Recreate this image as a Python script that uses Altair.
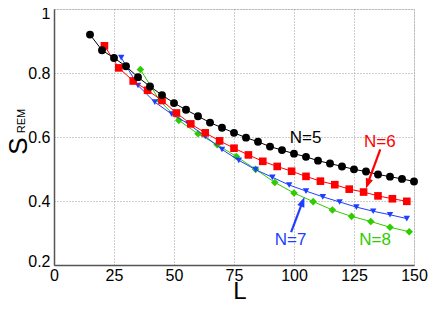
import altair as alt
import pandas as pd

# ---- data ----
L5 = [15, 20, 25, 30, 35, 40, 45, 50, 55, 60, 65, 70, 75, 80, 85, 90, 95, 100,
      105, 110, 115, 120, 125, 130, 135, 140, 145, 150]
S5 = [0.920, 0.871, 0.847, 0.821, 0.787, 0.758, 0.731, 0.706, 0.685, 0.665,
      0.645, 0.629, 0.613, 0.598, 0.585, 0.570, 0.559, 0.548, 0.538, 0.526,
      0.517, 0.508, 0.499, 0.492, 0.483, 0.476, 0.469, 0.461]

L6 = [21, 27, 33, 39, 45, 51, 57, 63, 69, 75, 81, 87, 93, 99, 105, 111, 117,
      123, 129, 135, 141, 147]
S6 = [0.885, 0.816, 0.775, 0.746, 0.714, 0.675, 0.641, 0.613, 0.588, 0.565,
      0.544, 0.524, 0.508, 0.493, 0.477, 0.462, 0.451, 0.437, 0.428, 0.416,
      0.407, 0.399]

L7 = [28, 35, 42, 49, 56, 63, 70, 77, 84, 91, 98, 105, 112, 119, 126, 133,
      140, 147]
S7 = [0.848, 0.761, 0.709, 0.672, 0.641, 0.602, 0.561, 0.527, 0.498, 0.474,
      0.450, 0.431, 0.413, 0.397, 0.381, 0.368, 0.357, 0.345]

L8 = [36, 44, 52, 60, 68, 76, 84, 92, 100, 108, 116, 124, 132, 140, 148]
S8 = [0.811, 0.714, 0.652, 0.610, 0.576, 0.539, 0.499, 0.458, 0.425, 0.398,
      0.372, 0.352, 0.336, 0.318, 0.304]

labels = ["N=5", "N=6", "N=7", "N=8"]
label_x = [104.8, 135.8, 98.6, 133.8]
label_y = [0.596, 0.583, 0.277, 0.277]

colors = ["#000000", "#ff0000", "#1f3fff", "#2ecc00"]
shapes = ["circle", "square", "triangle-down", "diamond"]
sizes = [62, 58, 42, 58]

# arrows: start -> head centre
arrow_x = [135.95, 98.8]
arrow_y = [0.561, 0.303]
arrow_x2 = [130.7, 103.6]
arrow_y2 = [0.454, 0.398]
arrow_angle = [200, 21]
arrow_color = ["#ff0000", "#1f3fff"]

FONT = "Liberation Sans"

xs = alt.Scale(domain=[0, 150], nice=False, zero=False)
ys = alt.Scale(domain=[0.2, 1.0], nice=False, zero=False)

xaxis = alt.Axis(values=[0, 25, 50, 75, 100, 125, 150], title=None, grid=True,
                 gridDash=[1, 2], gridColor="#9a9a9a", gridWidth=1,
                 domainColor="#555555", domainWidth=1.5, ticks=False,
                 labelFont=FONT, labelFontSize=16, labelColor="#000",
                 labelPadding=2, labelAngle=0, labelFlush=False)
yaxis = alt.Axis(values=[0.2, 0.4, 0.6, 0.8, 1.0], title=None, grid=True,
                 gridDash=[1, 2], gridColor="#9a9a9a", gridWidth=1,
                 domainColor="#555555", domainWidth=1.5, ticks=False,
                 labelFont=FONT, labelFontSize=16, labelColor="#000",
                 labelPadding=4, format=".1~f", labelFlush=True,
                 labelFlushOffset=4)

series = [(L5, S5), (L6, S6), (L7, S7), (L8, S8)]
layers = []
for i in [3, 2, 1, 0]:
    Ls, Ss = series[i]
    df = pd.DataFrame({"L": Ls, "S": Ss})
    base = alt.Chart(df)
    ln = base.mark_line(color=colors[i], strokeWidth=1).encode(
        x=alt.X("L:Q", scale=xs, axis=xaxis),
        y=alt.Y("S:Q", scale=ys, axis=yaxis),
    )
    pt = base.mark_point(shape=shapes[i], filled=True, opacity=1,
                         color=colors[i], size=sizes[i]).encode(
        x=alt.X("L:Q", scale=xs), y=alt.Y("S:Q", scale=ys))
    layers += [ln, pt]

ann = pd.DataFrame({"t": labels, "x": label_x, "y": label_y, "c": colors})
text = alt.Chart(ann).mark_text(font=FONT, fontSize=17, align="center",
                                baseline="middle").encode(
    x=alt.X("x:Q", scale=xs), y=alt.Y("y:Q", scale=ys),
    text="t:N", color=alt.Color("c:N", scale=None))

arr = pd.DataFrame({"x": arrow_x, "y": arrow_y, "x2": arrow_x2,
                    "y2": arrow_y2, "a": arrow_angle, "c": arrow_color})
arrow_lines = alt.Chart(arr).mark_rule(strokeWidth=2.2).encode(
    x=alt.X("x:Q", scale=xs), y=alt.Y("y:Q", scale=ys),
    x2="x2:Q", y2="y2:Q", color=alt.Color("c:N", scale=None))
arrow_heads = alt.Chart(arr).mark_point(
    shape="M0,-1L0.75,1L-0.75,1Z", filled=True, opacity=1, size=100).encode(
    x=alt.X("x2:Q", scale=xs), y=alt.Y("y2:Q", scale=ys),
    angle=alt.Angle("a:Q", scale=None), color=alt.Color("c:N", scale=None))

title_df = pd.DataFrame({"t": ["S"]})
s_title = alt.Chart(title_df).mark_text(font=FONT, fontSize=26, angle=270,
                                        align="center", baseline="middle").encode(
    x=alt.value(-35), y=alt.value(137), text="t:N")
rem_df = pd.DataFrame({"t": ["REM"]})
rem_title = alt.Chart(rem_df).mark_text(font=FONT, fontSize=11, angle=270,
                                        align="center", baseline="middle").encode(
    x=alt.value(-32), y=alt.value(112), text="t:N")
l_df = pd.DataFrame({"t": ["L"]})
l_title = alt.Chart(l_df).mark_text(font=FONT, fontSize=24, align="center",
                                    baseline="alphabetic").encode(
    x=alt.value(186), y=alt.value(290), text="t:N")

chart = alt.layer(*layers, arrow_lines, arrow_heads, text, s_title,
                  rem_title, l_title).properties(
    width=360, height=256,
    autosize=alt.AutoSizeParams(type="none"),
    padding={"left": 46, "top": 1, "right": 14, "bottom": 36},
).configure_view(stroke="#555555", strokeWidth=1.5).configure(
    background="white")

chart.save("out.html", embed_options={"renderer": "svg", "actions": False})
